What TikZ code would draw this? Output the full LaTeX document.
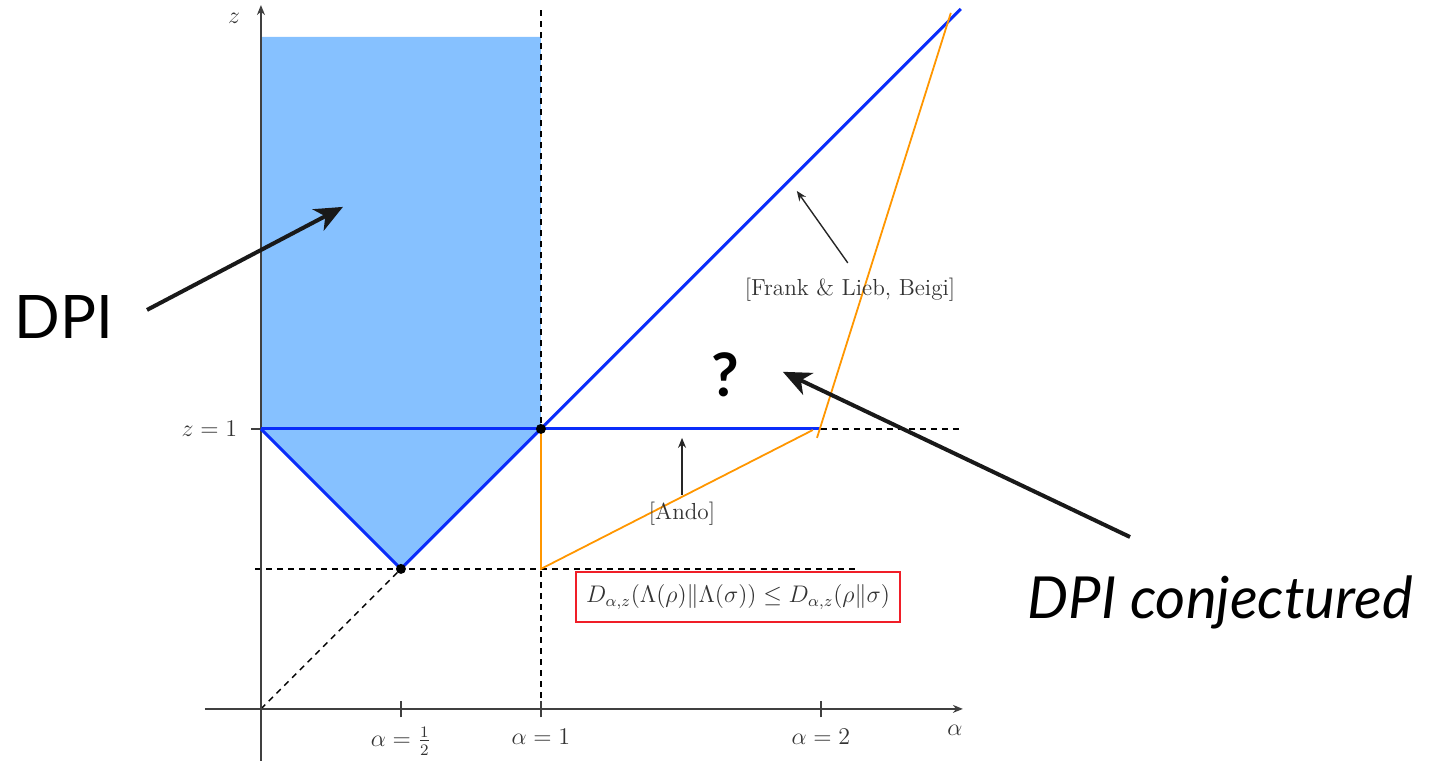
\documentclass[tikz,border=0pt]{standalone}
\usepackage{amsmath,amssymb}
\usepackage{fontspec}
\newfontfamily\annfont{Lato}
\usetikzlibrary{arrows.meta}
\definecolor{fillblue}{RGB}{134,193,255}
\definecolor{lineblue}{RGB}{10,45,250}
\definecolor{orng}{RGB}{255,150,0}
\definecolor{boxred}{RGB}{240,30,40}
\tikzset{
  axis/.style={draw=black!75, line width=0.7pt},
  bluel/.style={draw=lineblue, line width=1.5pt},
  orl/.style={draw=orng, line width=0.9pt},
  dsh/.style={draw=black, dashed, line width=0.7pt, dash pattern=on 3pt off 2.5pt},
  lbl/.style={text=black!80, font=\fontsize{11.6}{13}\selectfont},
  thinarr/.style={draw=black!85, line width=0.7pt, -{Stealth[length=5pt,width=4pt]}},
  bigarr/.style={draw=black!90, line width=2pt, -{Stealth[length=14pt,width=12pt,inset=4pt]}},
  dotn/.style={circle, fill=black, inner sep=0pt, minimum size=5pt},
}
\begin{document}
\begin{tikzpicture}[x=140pt,y=140pt]
\useasboundingbox (-0.932,-0.196) rectangle (4.179,2.532);
% fill
\fill[fillblue] (0,2.4) -- (1,2.4) -- (1,1) -- (0.5,0.5) -- (0,1) -- cycle;
% dashed helpers
\coordinate (O) at (0,0);
\coordinate (H) at (0.5,0.5);
\coordinate (P) at (1,1);
\coordinate (Q) at (2,1);
\coordinate (R) at (1,0.5);
\draw[dsh] (1,0) -- (1,2.5);
\draw[dsh] (-0.02,0.5) -- (2.14,0.5);
\draw[dsh] (Q) -- (2.5,1);
\draw[dsh] (O) -- (H);
% axes
\draw[axis, -{Stealth[length=5pt,width=4pt]}] (-0.2,0) -- (2.507,0);
\draw[axis, -{Stealth[length=5pt,width=4pt]}] (0,-0.186) -- (0,2.514);
\draw[axis] (0.5,-0.03) -- (0.5,0.03);
\draw[axis] (1,-0.03) -- (1,0.03);
\draw[axis] (2,-0.03) -- (2,0.03);
\draw[axis] (-0.035,1) -- (0,1);
\node[lbl] (zl) at (-0.096,2.468) {$z$};
\node[lbl] (al) at (2.479,-0.075) {$\alpha$};
\node[lbl, anchor=east] (z1) at (-0.06,1) {$z=1$};
\node[lbl, inner sep=1pt] (ah) at (0.5,-0.115) {$\alpha=\frac{1}{2}$};
\node[lbl] (a1) at (1,-0.1) {$\alpha=1$};
\node[lbl] (a2) at (2,-0.1) {$\alpha=2$};
% blue lines
\draw[bluel] (0,1) -- (H) -- (P) -- (2.5,2.5);
\draw[bluel] (0,1) -- (Q);
% orange
\draw[orl] (P) -- (R) -- (1.971,0.996);
\draw[orl] (1.986,0.968) -- (2.464,2.486);
% dots
\node[dotn] (d1) at (H) {};
\node[dotn] (d2) at (P) {};
% labels with thin arrows
\node[lbl] (fl) at (2.104,1.496) {[Frank \& Lieb, Beigi]};
\coordinate (flt) at (1.914,1.85);
\draw[thinarr] (2.096,1.593) -- (flt);
\node[lbl] (an) at (1.504,0.696) {[Ando]};
\coordinate (ant) at (1.504,0.968);
\draw[thinarr] (an.north) -- (ant);
\node[lbl, draw=boxred, line width=0.8pt, minimum width=162pt, minimum height=25pt, inner sep=2pt] (box) at (1.704,0.4) {$D_{\alpha,z}(\Lambda(\rho)\|\Lambda(\sigma))\le D_{\alpha,z}(\rho\|\sigma)$};
% annotations
\node[font=\annfont\fontsize{30}{34}\selectfont] (dpi) at (-0.704,1.4) {DPI};
\coordinate (dpit) at (0.293,1.793);
\draw[bigarr] (-0.407,1.425) -- (dpit);
\node[font=\annfont\bfseries\fontsize{30}{34}\selectfont] (qm) at (1.657,1.193) {?};
\node[font=\annfont\itshape\fontsize{29}{32}\selectfont] (dpic) at (3.425,0.379) {DPI conjectured};
\coordinate (qt) at (1.864,1.204);
\draw[bigarr] (3.104,0.614) -- (qt);
\end{tikzpicture}
\end{document}
